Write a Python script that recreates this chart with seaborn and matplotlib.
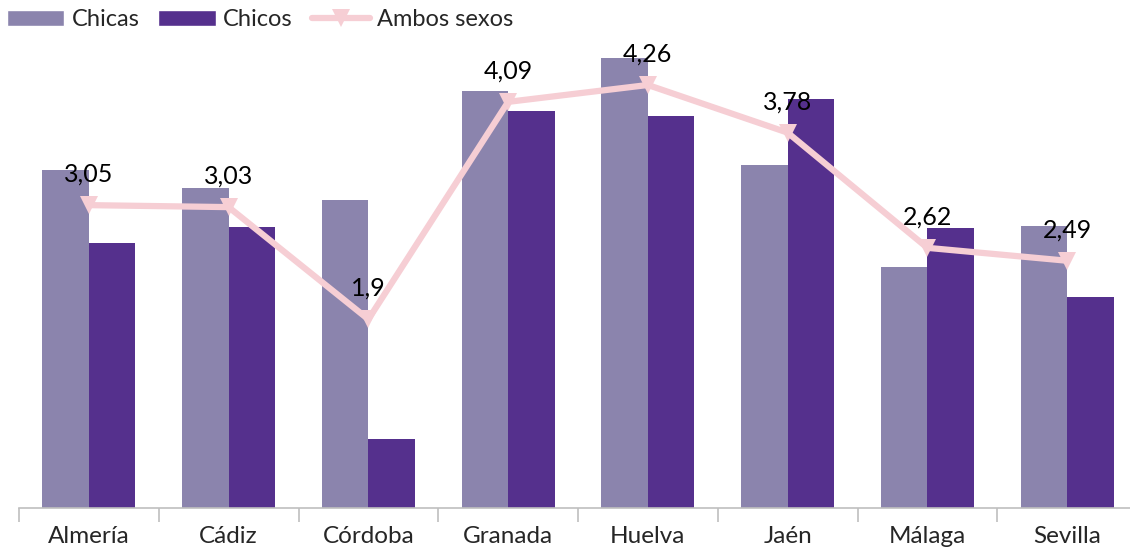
import numpy as np
import pandas as pd
import matplotlib
matplotlib.use("Agg")
import matplotlib.pyplot as plt
from matplotlib.patches import Patch
from matplotlib.lines import Line2D
import seaborn as sns

provincias = ["Almería", "Cádiz", "Córdoba", "Granada", "Huelva", "Jaén", "Málaga", "Sevilla"]
chicas = [3.40, 3.22, 3.10, 4.20, 4.53, 3.45, 2.43, 2.84]
chicos = [2.67, 2.83, 0.69, 4.00, 3.95, 4.12, 2.82, 2.12]
ambos = [3.05, 3.03, 1.90, 4.09, 4.26, 3.78, 2.62, 2.49]
series = ["Chicas", "Chicos"]
etiqueta_linea = "Ambos sexos"

col_chicas = "#8B84AD"
col_chicos = "#55308D"
col_linea = "#F6CED4"

sns.set_theme(style="white")
plt.rcParams["font.family"] = ["Lato", "DejaVu Sans"]

df = pd.DataFrame({
    "provincia": provincias * 2,
    "sexo": [series[0]] * len(provincias) + [series[1]] * len(provincias),
    "valor": chicas + chicos,
})

fig = plt.figure(figsize=(11.30, 5.53), dpi=100)
ax = fig.add_axes([19 / 1130, 45 / 553, 1118 / 1130, 478 / 553])

sns.barplot(data=df, x="provincia", y="valor", hue="sexo", order=provincias,
            hue_order=series, palette=[col_chicas, col_chicos], width=0.667,
            saturation=1, gap=0, linewidth=0, edgecolor="none", legend=False, ax=ax)

pos = np.arange(len(provincias))
sns.lineplot(x=pos, y=ambos, color=col_linea, linewidth=4.5, marker="v",
             markersize=13, markeredgewidth=0, ax=ax, legend=False)

for x, v in zip(pos, ambos):
    txt = f"{v:g}".replace(".", ",")
    ax.annotate(txt, (x, v), xytext=(0, 31), textcoords="offset pixels",
                ha="center", va="center", fontsize=18, color="black")

ax.set_xlim(-0.5, len(provincias) - 0.5)
ax.set_ylim(0, 478 / 99.3)
ax.set_xlabel("")
ax.set_ylabel("")
ax.set_yticks([])
for s in ["left", "right", "top"]:
    ax.spines[s].set_visible(False)
ax.spines["bottom"].set_color("#BFBFBF")
ax.spines["bottom"].set_linewidth(1.2)

ax.set_xticks(pos)
ax.set_xticklabels(provincias, fontsize=17.5)
ax.set_xticks(np.arange(-0.5, len(provincias), 1.0), minor=True)
ax.tick_params(axis="x", which="major", length=0, pad=13)
ax.tick_params(axis="x", which="minor", length=10, width=1.2, color="#BFBFBF",
               direction="out", bottom=True)

handles = [
    Patch(facecolor=col_chicas, label=series[0]),
    Patch(facecolor=col_chicos, label=series[1]),
    Line2D([0], [0], color=col_linea, linewidth=4.5, marker="v", markersize=13,
           markeredgewidth=0, label=etiqueta_linea),
]
fig.legend(handles=handles, loc="upper left", bbox_to_anchor=(-0.013, 1.022), ncol=3,
           frameon=False, fontsize=17, handlelength=2.45, handleheight=0.65,
           columnspacing=0.8, handletextpad=0.3)

fig.savefig("out.png", dpi=100)
